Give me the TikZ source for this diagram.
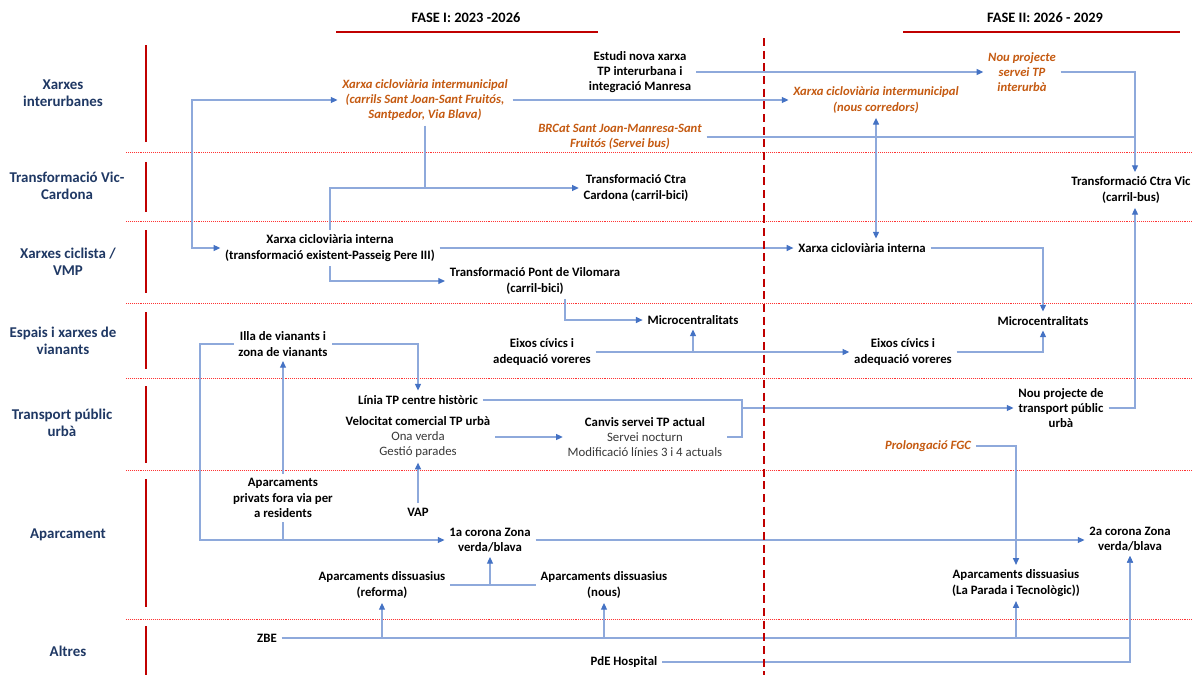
\documentclass[tikz,border=0pt]{standalone}
\usepackage{fontspec}
\setmainfont{Carlito}
\usetikzlibrary{arrows.meta}
\definecolor{lblue}{HTML}{8EA9DB}
\definecolor{tblue}{HTML}{4472C4}
\definecolor{navy}{HTML}{1F3864}
\definecolor{orng}{HTML}{C55A11}
\definecolor{dred}{HTML}{C00000}
\newcommand\subl[1]{{\mdseries\color{black!78}#1}}
\begin{document}
\begin{tikzpicture}[x=0.75pt,y=-0.75pt,
  tx/.style={align=center,font=\fontsize{9.6}{11.4}\selectfont\bfseries,inner sep=3.5pt,text=black},
  ot/.style={tx,font=\fontsize{9.5}{11.4}\selectfont\bfseries\itshape,text=orng},
  lab/.style={align=center,font=\fontsize{11.2}{13}\selectfont\bfseries,text=navy},
  hd/.style={font=\fontsize{10.8}{13}\selectfont\bfseries,text=black},
  con/.style={draw=lblue,line width=0.8pt},
  arr/.style={con,-{Triangle[length=5pt,width=4.5pt,color=tblue]}},
  arr2/.style={con,{Triangle[length=5pt,width=4.5pt,color=tblue]}-{Triangle[length=5pt,width=4.5pt,color=tblue]}},
  sep/.style={draw=red!80,line width=0.45pt,densely dotted},
  bar/.style={draw=dred,line width=1.5pt}]
\fill[white] (0,0) rectangle (1193,675);
\useasboundingbox (0,0) rectangle (1193,675);

% header
\node[hd] (f1) at (466,18) {FASE I: 2023 -2026};
\node[hd] (f2) at (1045,18) {FASE II: 2026 - 2029};
\draw[dred,line width=2.2pt] (336,32) -- (598,32);
\draw[dred,line width=2.2pt] (903,32) -- (1180,32);

% separators and bars
\foreach \y in {152,221,303,378,470,619} \draw[sep] (126,\y) -- (1193,\y);
\foreach \a/\b in {45/142,162/212,230/293,312/369,386/463,479/607,626/675} \draw[bar] (146,\a) -- (146,\b);

% row labels
\node[lab] (l1) at (63,93) {Xarxes\\interurbanes};
\node[lab] (l2) at (67,186) {Transformació Vic-\\Cardona};
\node[lab] (l3) at (68,262) {Xarxes ciclista /\\VMP};
\node[lab] (l4) at (63,341) {Espais i xarxes de\\vianants};
\node[lab] (l5) at (62,423) {Transport públic\\urbà};
\node[lab] (l6) at (68,535) {Aparcament};
\node[lab] (l7) at (68,651) {Altres};

% nodes
\node[tx] (estudi) at (640,72) {Estudi nova xarxa\\TP interurbana i\\integració Manresa};
\node[ot] (imun) at (425,100) {Xarxa cicloviària intermunicipal\\(carrils Sant Joan-Sant Fruitós,\\Santpedor, Via Blava)};
\node[ot] (imun2) at (876,100) {Xarxa cicloviària intermunicipal\\(nous corredors)};
\node[ot] (brcat) at (620,137) {BRCat Sant Joan-Manresa-Sant\\Fruitós (Servei bus)};
\node[ot] (nouint) at (1022,72) {Nou projecte\\servei TP\\interurbà};
\node[tx] (cardona) at (636,188) {Transformació Ctra\\Cardona (carril-bici)};
\node[tx] (vic) at (1131,190) {Transformació Ctra Vic\\(carril-bus)};
\node[tx] (interna) at (330,248) {Xarxa cicloviària interna\\(transformació existent-Passeig Pere III)};
\node[tx] (pont) at (535,281) {Transformació Pont de Vilomara\\(carril-bici)};
\node[tx] (interna2) at (862,248) {Xarxa cicloviària interna};
\node[tx] (illa) at (283,344) {Illa de vianants i\\zona de vianants};
\node[tx] (micro) at (693,320) {Microcentralitats};
\node[tx] (eixos) at (542,352) {Eixos cívics i\\adequació voreres};
\node[tx] (eixos2) at (903,352) {Eixos cívics i\\adequació voreres};
\node[tx] (micro2) at (1043,321) {Microcentralitats};
\node[tx] (linia) at (418,400) {Línia TP centre històric};
\node[tx] (veloc) at (418,437) {Velocitat comercial TP urbà\\\subl{Ona verda}\\\subl{Gestió parades}};
\node[tx] (canvis) at (645,437) {Canvis servei TP actual\\\subl{Servei nocturn}\\\subl{Modificació línies 3 i 4 actuals}};
\node[tx] (noutp) at (1061,408) {Nou projecte de\\transport públic\\urbà};
\node[ot] (fgc) at (928,446) {Prolongació FGC};
\node[tx] (privats) at (283,498) {Aparcaments\\privats fora via per\\a residents};
\node[tx] (vap) at (418,512) {VAP};
\node[tx] (corona1) at (490,540) {1a corona Zona\\verda/blava};
\node[tx] (reforma) at (382,585) {Aparcaments dissuasius\\(reforma)};
\node[tx] (nous) at (604,585) {Aparcaments dissuasius\\(nous)};
\node[tx] (corona2) at (1130,539) {2a corona Zona\\verda/blava};
\node[tx] (parada) at (1016,583) {Aparcaments dissuasius\\(La Parada i Tecnològic))};
\node[tx] (zbe) at (267,638) {ZBE};
\node[tx] (pde) at (624,662) {PdE Hospital};

\coordinate (xp) at (565,0);
\coordinate (xv) at (1135,0);
\coordinate (jn) at (742,408);

% connectors
\draw[arr2] (imun.west) -| (192,200) |- (interna.west);
\draw[arr] (imun.south) |- (cardona.west);
\draw[con] (interna.north) |- (imun.south |- cardona.west);
\draw[arr] (interna.south) |- (pont.west);
\draw[arr] (interna.east) -- (interna2.west);
\draw[arr] (pont.south -| xp) |- (micro.west);
\draw[arr] (eixos.east) -- (eixos2.west);
\draw[arr] (eixos.east -| micro.south) -- (micro.south);
\draw[arr] (eixos2.east) -| (micro2.south);
\draw[arr] (interna2.east) -| (micro2.north);
\draw[arr2] (imun2.south) -- (imun2.south |- interna2.north);
\draw[arr] (imun.east) -- (imun2.west);
\draw[arr] (estudi.east) -- (nouint.west);
\draw[arr] (nouint.east) -| (vic.north -| xv);
\draw[con] (brcat.east) -- (brcat.east -| xv);
\draw[arr] (noutp.east) -| (vic.south -| xv);
\draw[arr] (illa.east) -| (linia.north);
\draw[arr] (illa.west) -| (200,450) |- (corona1.west);
\draw[con] (privats.south) -- (privats.south |- corona1.west);
\draw[arr] (privats.north) -- (illa.south);
\draw[arr] (vap.north) -- (veloc.south);
\draw[arr] (veloc.east) -- (canvis.west);
\draw[con] (linia.east) -| (jn);
\draw[arr] (canvis.east) -| (jn) -- (noutp.west);
\draw[arr] (fgc.east) -| (parada.north);
\draw[arr] (corona1.east) -- (corona1.east -| corona2.west);
\draw[con] (reforma.east) -- (nous.west);
\draw[arr] (reforma.east -| corona1.south) -- (corona1.south);
\draw[arr] (zbe.east) -| (corona2.south);
\draw[arr] (pde.east) -| (corona2.south);
\draw[arr] (zbe.east -| reforma.south) -- (reforma.south);
\draw[arr] (zbe.east -| nous.south) -- (nous.south);
\draw[arr] (zbe.east -| parada.south) -- (parada.south);

% phase divider
\draw[dred,line width=2.2pt,dash pattern=on 6pt off 3.5pt] (764,38) -- (764,675);
\end{tikzpicture}
\end{document}
